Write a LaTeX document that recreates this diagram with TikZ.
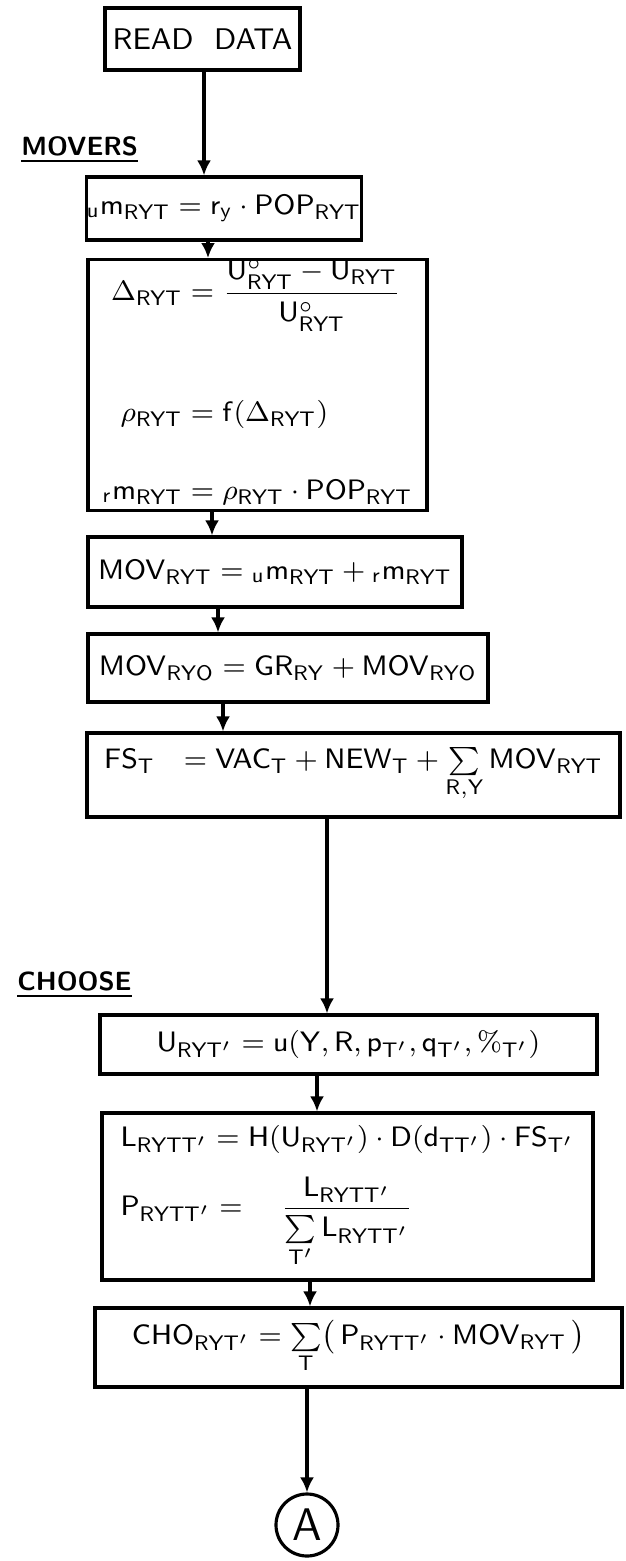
\documentclass[tikz,border=0pt]{standalone}
\usepackage{amsmath}
\usepackage{tikz}
\usetikzlibrary{arrows.meta,positioning}

\newcommand{\sv}[1]{\mathsf{#1}}

\begin{document}
\begin{tikzpicture}[x=0.1mm, y=-0.1mm, line width=0.9pt,
  box/.style={rectangle, draw, inner sep=0pt, font=\fontsize{8.5}{10.5}\selectfont},
  flow/.style={-{Latex[length=1.5mm,width=1.4mm]}},
  heading/.style={anchor=west, font=\sffamily\bfseries\fontsize{7.5}{9}\selectfont}]
  \useasboundingbox (0,0) rectangle (625,1561);

  \node[box, minimum width=19.5mm, minimum height=6.2mm, font=\sffamily\fontsize{8.5}{10}\selectfont] (read) at (202.5,39) {READ\ \ DATA};
  \node[heading] (movers) at (8,150) {\underline{MOVERS}};
  \node[box, minimum width=26.8mm, minimum height=6.3mm] (um) at (224,208.5)
    {${}_{\sv{u}}\sv{m}_{\sv{RYT}} = \sv{r}_{\sv{y}} \cdot \sv{POP}_{\sv{RYT}}$};
  \node[box, minimum width=33.9mm, minimum height=23.6mm] (delta) at (257.5,385)
    {$\begin{aligned}
      \Delta_{\sv{RYT}} &= \frac{\sv{U}^{\circ}_{\sv{RYT}} - \sv{U}_{\sv{RYT}}}{\sv{U}^{\circ}_{\sv{RYT}}}\\[5mm]
      \rho_{\sv{RYT}} &= \sv{f}(\Delta_{\sv{RYT}})\\[3mm]
      {}_{\sv{r}}\sv{m}_{\sv{RYT}} &= \rho_{\sv{RYT}} \cdot \sv{POP}_{\sv{RYT}}
    \end{aligned}$};
  \node[box, minimum width=37.4mm, minimum height=7mm] (mov) at (275,572)
    {$\sv{MOV}_{\sv{RYT}} = {}_{\sv{u}}\sv{m}_{\sv{RYT}} + {}_{\sv{r}}\sv{m}_{\sv{RYT}}$};
  \node[box, minimum width=40mm, minimum height=6.8mm] (movo) at (288,668)
    {$\sv{MOV}_{\sv{RYO}} = \sv{GR}_{\sv{RY}} + \sv{MOV}_{\sv{RYO}}$};
  \node[box, minimum width=53.3mm, minimum height=8.4mm] (fs) at (353.5,775)
    {$\sv{FS}_{\sv{T}}\ \ = \sv{VAC}_{\sv{T}} + \sv{NEW}_{\sv{T}} + \sum\limits_{\sv{R,Y}} \sv{MOV}_{\sv{RYT}}$};

  \node[heading] (choose) at (4,985) {\underline{CHOOSE}};
  \node[box, minimum width=49.7mm, minimum height=5.9mm] (util) at (348.5,1044.5)
    {$\sv{U}_{\sv{RYT'}} = \sv{u}(\sv{Y}, \sv{R}, \sv{p}_{\sv{T'}}, \sv{q}_{\sv{T'}}, \%_{\sv{T'}})$};
  \node[box, minimum width=49.1mm, minimum height=16.7mm, align=left] (lprob) at (347.5,1196.5)
    {$\sv{L}_{\sv{RYTT'}} = \sv{H}(\sv{U}_{\sv{RYT'}}) \cdot \sv{D}(\sv{d}_{\sv{TT'}}) \cdot \sv{FS}_{\sv{T'}}$\\[2mm]
     $\sv{P}_{\sv{RYTT'}} = \quad\dfrac{\sv{L}_{\sv{RYTT'}}}{\sum\limits_{\sv{T'}} \sv{L}_{\sv{RYTT'}}}$};
  \node[box, minimum width=52.7mm, minimum height=7.9mm] (cho) at (358.5,1347.5)
    {$\sv{CHO}_{\sv{RYT'}} = \sum\limits_{\sv{T}} \bigl(\, \sv{P}_{\sv{RYTT'}} \cdot \sv{MOV}_{\sv{RYT}} \,\bigr)$};
  \node[circle, draw, minimum size=6.2mm, inner sep=0pt, font=\sffamily\fontsize{13}{15}\selectfont] (ringA) at (307,1525) {A};

  \coordinate (c1) at (204,0);
  \coordinate (c2) at (208,0);
  \coordinate (c3) at (212,0);
  \coordinate (c4) at (218,0);
  \coordinate (c5) at (223,0);
  \coordinate (c6) at (327,0);
  \coordinate (c7) at (317,0);
  \coordinate (c8) at (310,0);

  \draw[flow] (read.south -| c1) -- (um.north -| c1);
  \draw[flow] (um.south -| c2) -- (delta.north -| c2);
  \draw[flow] (delta.south -| c3) -- (mov.north -| c3);
  \draw[flow] (mov.south -| c4) -- (movo.north -| c4);
  \draw[flow] (movo.south -| c5) -- (fs.north -| c5);
  \draw[flow] (fs.south -| c6) -- (util.north -| c6);
  \draw[flow] (util.south -| c7) -- (lprob.north -| c7);
  \draw[flow] (lprob.south -| c8) -- (cho.north -| c8);
  \draw[flow] (cho.south -| ringA) -- (ringA.north);
\end{tikzpicture}
\end{document}
